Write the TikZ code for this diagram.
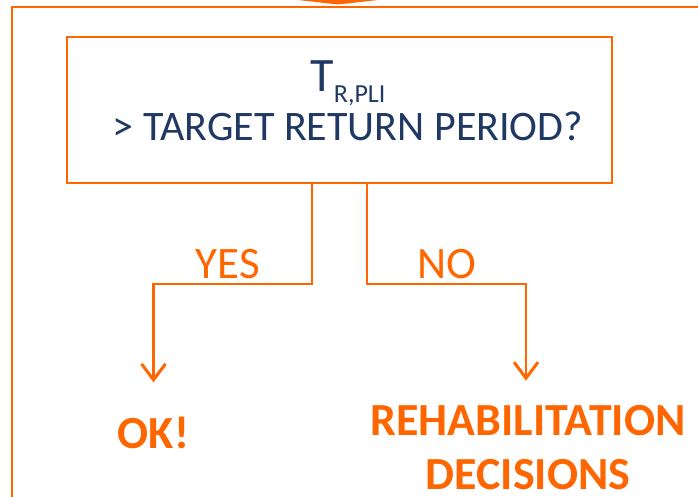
\documentclass[tikz,border=0pt]{standalone}
\usepackage{fontspec}
\setmainfont{Carlito}
\usetikzlibrary{arrows.meta}
\definecolor{dorange}{RGB}{255,102,0}
\definecolor{dnavy}{RGB}{31,56,100}

\begin{document}
\begin{tikzpicture}[x=1pt, y=-1pt,
  qbox/.style={draw=dorange, line width=2.5pt, minimum width=545pt, minimum height=146pt},
  lbl/.style={text=dorange, font=\fontsize{45}{50}\selectfont, inner sep=0pt, anchor=base},
  res/.style={text=dorange, font=\fontsize{46}{54}\selectfont\bfseries, inner sep=0pt, align=center, anchor=base},
  flow/.style={draw=dorange, line width=2.2pt, -{Straight Barb[length=16pt, width=24pt, line width=3pt]}}]
\useasboundingbox (0,0) rectangle (698,497);
\clip (0,0) rectangle (698,497);
\fill[dorange] (298,0) -- (378,0) -- (338,4.5) -- cycle;
\draw[dorange, line width=2.5pt] (12,7) rectangle (730,530);

\node (q) [qbox] at (339.5,110) {};
\node (qtxt) [text=dnavy, align=center, inner sep=0pt, anchor=base,
  font=\fontsize{42}{49}\selectfont] at (348,141)
  {{\fontsize{48}{49}\selectfont T}\raisebox{-11pt}{\fontsize{26}{26}\selectfont R,PLI}\\
   > TARGET RETURN PERIOD?};

\node (ok) [res] at (153.5,448) {OK!};
\node (rehab) [res] at (528,489) {REHABILITATION\\DECISIONS};

\node (yes) [lbl] at (228,278) {YES};
\node (no) [lbl] at (447,278) {NO};

\draw[flow] ([xshift=-27.5pt]q.south) -- ++(0,100) -| ([yshift=34pt]ok.north);
\draw[flow] ([xshift=27.5pt]q.south) -- ++(0,100) -| ([xshift=-2pt,yshift=24pt]rehab.north);
\end{tikzpicture}
\end{document}
